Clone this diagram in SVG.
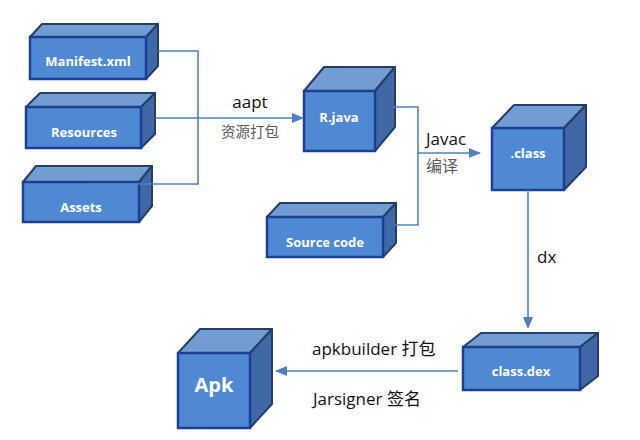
<svg xmlns="http://www.w3.org/2000/svg" width="640" height="440" viewBox="0 0 640 440">
<style>
.front{fill:#5089d3;stroke:#1c3f94;stroke-width:2.5}
.top{fill:#729dd3;stroke:#263d66;stroke-width:2;stroke-linejoin:round}
.side{fill:#3f69a6;stroke:#263d66;stroke-width:2;stroke-linejoin:round}
.bt{font-family:"Open Sans","Liberation Sans",sans-serif;font-weight:700;font-size:13px;fill:#ffffff;text-anchor:middle}
.lbl{font-family:"Open Sans","Noto Sans CJK SC",sans-serif;font-size:17px;fill:#111111}
.cn{font-family:"Noto Sans CJK SC",sans-serif;fill:#595959}
.conn{fill:none;stroke:#4f81bd;stroke-width:1.6}
</style>
<defs>
<marker id="arr" markerUnits="userSpaceOnUse" markerWidth="12" markerHeight="12" viewBox="0 0 12 12" refX="11" refY="6" orient="auto">
<path d="M0,1 L12,6 L0,11 Z" fill="#4f81bd"/>
</marker>
</defs>
<rect width="640" height="440" fill="#ffffff"/>

<g id="manifest">
<polygon class="top" points="30,37 42,24 158,24 146,37"/>
<polygon class="side" points="146,37 158,24 158,66 146,79"/>
<rect class="front" x="30" y="37" width="116" height="42"/>
<text class="bt" x="88" y="66">Manifest.xml</text>
</g>
<g id="resources">
<polygon class="top" points="26,107 40,93 155,93 141,107"/>
<polygon class="side" points="141,107 155,93 155,134 141,148"/>
<rect class="front" x="26" y="107" width="115" height="41"/>
<text class="bt" x="84" y="137">Resources</text>
</g>
<g id="assets">
<polygon class="top" points="23,182 36,166 152,166 139,182"/>
<polygon class="side" points="139,182 152,166 152,206 139,222"/>
<rect class="front" x="23" y="182" width="116" height="40"/>
<text class="bt" x="81" y="212">Assets</text>
</g>
<g id="rjava">
<polygon class="top" points="304,91 324,67 395,67 375,91"/>
<polygon class="side" points="375,91 395,67 395,127 375,151"/>
<rect class="front" x="304" y="91" width="71" height="60"/>
<text class="bt" x="339" y="122">R.java</text>
</g>
<g id="sourcecode">
<polygon class="top" points="267,217 280,203 396,203 383,217"/>
<polygon class="side" points="383,217 396,203 396,243 383,257"/>
<rect class="front" x="267" y="217" width="116" height="40"/>
<text class="bt" x="325" y="247">Source code</text>
</g>
<g id="class">
<polygon class="top" points="492,128 514,105 586,105 564,128"/>
<polygon class="side" points="564,128 586,105 586,167 564,190"/>
<rect class="front" x="492" y="128" width="72" height="62"/>
<text class="bt" x="528" y="158">.class</text>
</g>
<g id="classdex">
<polygon class="top" points="463,347 481,333 598,333 580,347"/>
<polygon class="side" points="580,347 598,333 598,376 580,390"/>
<rect class="front" x="463" y="347" width="117" height="43"/>
<text class="bt" x="521" y="376">class.dex</text>
</g>
<g id="apk">
<polygon class="top" points="178,353 200,329 272,329 250,353"/>
<polygon class="side" points="250,353 272,329 272,404 250,428"/>
<rect class="front" x="178" y="353" width="72" height="75"/>
<text class="bt" x="214" y="392" style="font-size:20px">Apk</text>
</g>

<g id="connectors">
<path class="conn" d="M158,51 H198 V184 H92"/>
<path class="conn" d="M155,118 H303" marker-end="url(#arr)"/>
<path class="conn" d="M393,107 H418 V225 H395"/>
<path class="conn" d="M418,153 H480" marker-end="url(#arr)"/>
<path class="conn" d="M528,190 V328" marker-end="url(#arr)"/>
<path class="conn" d="M458,371 H276" marker-end="url(#arr)"/>
</g>

<g id="labels">
<text class="lbl" x="250" y="108" text-anchor="middle">aapt</text>
<text class="cn" x="250" y="137" text-anchor="middle" font-size="14.5">资源打包</text>
<text class="lbl" x="446" y="145" text-anchor="middle">Javac</text>
<text class="cn" x="426" y="172" font-size="16">编译</text>
<text class="lbl" x="537" y="263">dx</text>
<text class="lbl" x="312" y="355">apkbuilder 打包</text>
<text class="lbl" x="313" y="405">Jarsigner 签名</text>
</g>
</svg>
